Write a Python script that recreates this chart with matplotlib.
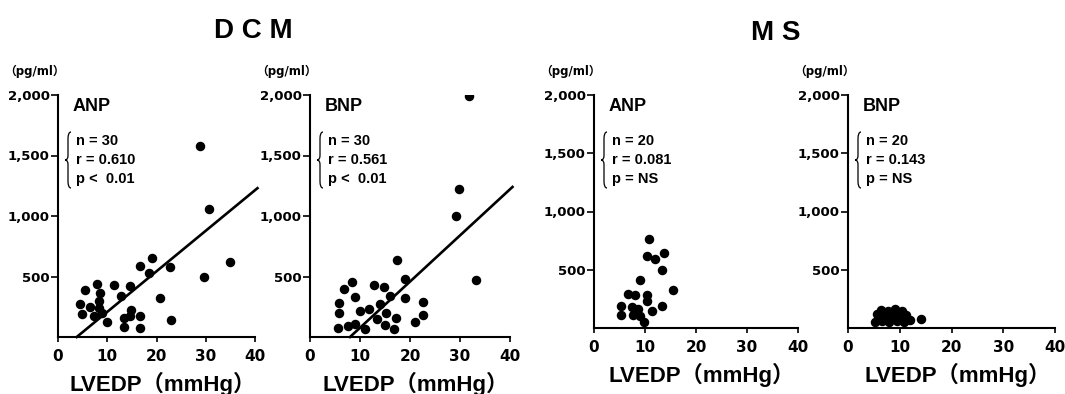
import matplotlib
matplotlib.use('Agg')
import matplotlib.pyplot as plt
from matplotlib.path import Path
from matplotlib.patches import PathPatch

W, H = 1065, 394

# LVEDP (mmHg) vs peptide (pg/ml)
dcm_anp_x = [30.7, 28.8, 34.9, 29.7, 22.7, 19.1, 16.7, 18.4, 20.8, 23.0,
             14.6, 11.4, 12.7, 7.9, 5.5, 8.6, 4.5, 6.5, 4.8, 8.4,
             8.4, 7.3, 8.9, 9.9, 14.8, 13.3, 14.7, 16.6, 13.3, 16.6]
dcm_anp_y = [1060, 1580, 620, 500, 575, 650, 590, 530, 320, 140,
             425, 430, 335, 440, 390, 360, 275, 250, 190, 295,
             240, 170, 195, 120, 225, 155, 170, 170, 85, 78]

dcm_bnp_x = [31.7, 29.1, 29.7, 33.2, 17.3, 19.0, 8.3, 6.7, 12.7, 14.7,
             8.9, 16.0, 19.0, 5.7, 5.7, 9.9, 11.8, 14.0, 15.1, 13.3,
             17.1, 22.5, 22.5, 21.0, 5.5, 7.5, 8.9, 11.0, 15.0, 16.7]
dcm_bnp_y = [1990, 1000, 1220, 475, 635, 480, 455, 400, 430, 410,
             330, 340, 325, 285, 200, 215, 235, 270, 200, 150,
             160, 290, 185, 120, 75, 95, 110, 65, 100, 65]

ms_anp_x = [10.7, 10.3, 12.0, 13.7, 13.3, 9.1, 15.5, 6.7, 8.0, 10.3,
            10.3, 5.2, 5.2, 7.5, 8.6, 7.6, 9.0, 9.9, 11.4, 13.4]
ms_anp_y = [760, 620, 595, 640, 500, 415, 325, 295, 280, 280,
            230, 185, 115, 180, 160, 115, 100, 55, 150, 185]

ms_bnp_x = [5.2, 6.6, 8.0, 9.4, 10.8, 12.0,
            5.9, 7.3, 8.7, 10.1,
            5.6, 7.0, 8.4, 9.8, 11.2,
            6.3, 7.7, 9.1, 10.5, 14.2]
ms_bnp_y = [55, 60, 50, 60, 55, 65,
            90, 95, 85, 90,
            120, 125, 115, 125, 115,
            155, 150, 160, 150, 75]

# regression lines as drawn (DCM only)
dcm_anp_line_x = [3.8, 40.5]
dcm_anp_line_y = [0, 1230]
dcm_bnp_line_x = [8.0, 40.5]
dcm_bnp_line_y = [0, 1240]

x_ticks = [0, 10, 20, 30, 40]
y_ticks = [500, 1000, 1500, 2000]
y_tick_labels = ['500', '1,000', '1,500', '2,000']

panels = [
    # name, x, y, line x, line y, n, r, p, box (left, right, top, bottom) px
    ('ANP', dcm_anp_x, dcm_anp_y, dcm_anp_line_x, dcm_anp_line_y, '30', '0.610', '<  0.01', (58, 255, 95, 337)),
    ('BNP', dcm_bnp_x, dcm_bnp_y, dcm_bnp_line_x, dcm_bnp_line_y, '30', '0.561', '<  0.01', (310, 510, 95, 337)),
    ('ANP', ms_anp_x, ms_anp_y, None, None, '20', '0.081', '= NS', (594, 798, 95, 328)),
    ('BNP', ms_bnp_x, ms_bnp_y, None, None, '20', '0.143', '= NS', (848, 1055, 95, 328)),
]

LAT = ['Liberation Sans', 'DejaVu Sans', 'Noto Sans CJK JP']


def brace(ax, x0, x1, y0, y1, **kw):
    # curly brace opening to the right, coordinates in axes fraction
    xm = (x0 + x1) / 2
    ym = (y0 + y1) / 2
    h = y1 - y0
    verts = [(x1, y1), (xm, y1), (xm, y1 - 0.12 * h),
             (xm, ym + 0.08 * h), (xm, ym), (x0, ym),
             (xm, ym), (xm, ym - 0.08 * h),
             (xm, y0 + 0.12 * h), (xm, y0), (x1, y0)]
    codes = [Path.MOVETO, Path.CURVE3, Path.CURVE3,
             Path.LINETO, Path.CURVE3, Path.CURVE3,
             Path.CURVE3, Path.CURVE3,
             Path.LINETO, Path.CURVE3, Path.CURVE3]
    ax.add_patch(PathPatch(Path(verts, codes), transform=ax.transAxes,
                           fill=False, clip_on=False, **kw))


fig = plt.figure(figsize=(W / 100, H / 100), dpi=100)
fig.patch.set_facecolor('white')

for name, xs, ys, lx, ly, n, r, p, box in panels:
    l, rr, t, b = box
    wpx, hpx = rr - l, b - t
    ax = fig.add_axes([l / W, 1 - b / H, wpx / W, hpx / H])

    def fx(dx):
        return dx / wpx

    def fy(dy):
        return 1 - dy / hpx

    ax.scatter(xs, ys, s=34, color='black', zorder=3)
    if lx is not None:
        ax.plot(lx, ly, color='black', lw=1.9, clip_on=False)

    ax.set_xlim(0, 40)
    ax.set_ylim(0, 2000)
    ax.set_xticks(x_ticks)
    ax.set_xticklabels([str(v) for v in x_ticks], family='DejaVu Sans',
                       fontweight='bold', fontsize=11)
    ax.set_yticks(y_ticks)
    ax.set_yticklabels(y_tick_labels, family='DejaVu Sans',
                       fontweight='bold', fontsize=9.5)
    for s in ['top', 'right']:
        ax.spines[s].set_visible(False)
    for s in ['left', 'bottom']:
        ax.spines[s].set_linewidth(1.5)
    ax.tick_params(axis='y', direction='out', length=5, width=1.2, pad=1)
    ax.tick_params(axis='x', direction='out', length=3.5, width=1.2, pad=5)

    ax.text(fx(wpx / 2 + 6), fy(hpx + 47), 'LVEDP（mmHg）', transform=ax.transAxes,
            ha='center', va='center', family=LAT, fontweight='bold', fontsize=16)
    ax.text(fx(-23), fy(-24), '（pg/ml）', transform=ax.transAxes,
            ha='center', va='center', family=['DejaVu Sans', 'Noto Sans CJK JP'],
            fontweight='bold', fontsize=8.5)

    ax.text(fx(15), fy(16), name, transform=ax.transAxes, ha='left',
            va='baseline', family=LAT, fontweight='bold', fontsize=13)
    ax.text(fx(18), fy(46), 'n = ' + n, transform=ax.transAxes, ha='left',
            va='center', family=LAT, fontweight='bold', fontsize=10.5)
    ax.text(fx(18), fy(65), 'r = ' + r, transform=ax.transAxes, ha='left',
            va='center', family=LAT, fontweight='bold', fontsize=10.5)
    ax.text(fx(18), fy(84), 'p ' + p, transform=ax.transAxes, ha='left',
            va='center', family=LAT, fontweight='bold', fontsize=10.5)
    brace(ax, fx(7), fx(13), fy(93), fy(37), color='black', lw=0.9)

fig.text(253 / W, 1 - 31 / H, 'D C M', ha='center', va='center',
         family=LAT, fontweight='bold', fontsize=20)
fig.text(776 / W, 1 - 33 / H, 'M S', ha='center', va='center',
         family=LAT, fontweight='bold', fontsize=20)

fig.savefig('out.png', dpi=100)
